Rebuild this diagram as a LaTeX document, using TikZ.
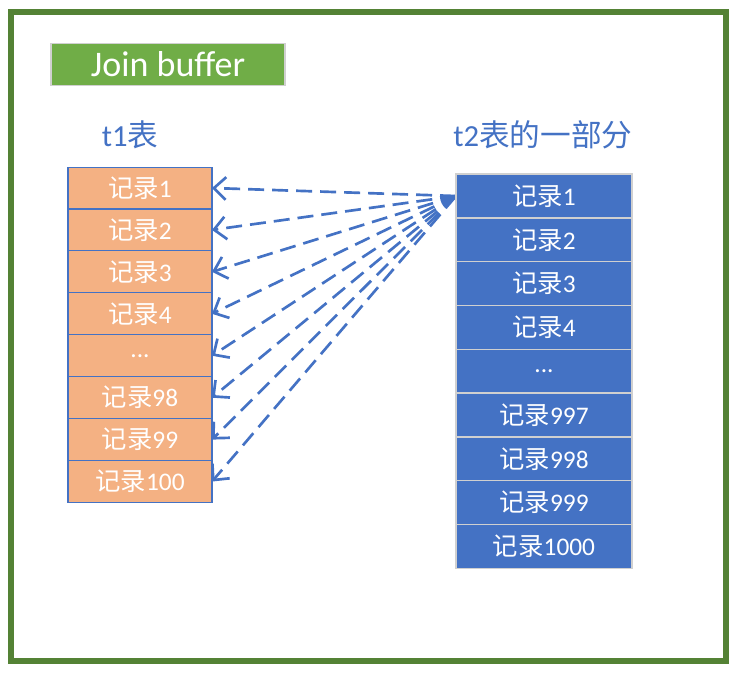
\documentclass[tikz,border=0pt]{standalone}
\usepackage{fontspec}
\setmainfont{Carlito}
\newfontfamily\cjk{Noto Sans CJK SC}
\usepackage{tikz}
\usetikzlibrary{arrows.meta, positioning, backgrounds}
\usepackage{xcolor}
\definecolor{framegreen}{HTML}{548235}
\definecolor{bufgreen}{HTML}{70AD47}
\definecolor{recorange}{HTML}{F4B183}
\definecolor{recblue}{HTML}{4472C4}
\definecolor{lightline}{HTML}{D0D0D0}
\newcommand{\record}[1]{{\cjk 记录}#1}
\tikzstyle{leftcell} = [rectangle, minimum width=108pt, minimum height=31.45pt, inner sep=0pt, outer sep=0pt, draw=recblue, line width=0.8pt, fill=recorange, text=white, font=\fontsize{19}{19}\selectfont]
\tikzstyle{rightcell} = [rectangle, minimum width=132pt, minimum height=32.85pt, inner sep=0pt, outer sep=0pt, draw=lightline, line width=1.1pt, fill=recblue, text=white, font=\fontsize{19}{19}\selectfont]
\tikzstyle{tabletitle} = [text=recblue, font=\fontsize{23}{23}\selectfont]
\tikzstyle{fanarrow} = [recblue, line width=2pt, dash pattern=on 12pt off 6pt, -{Straight Barb[length=9pt,width=17pt]}]

\begin{document}
\begin{tikzpicture}[x=0.75pt, y=-0.75pt]
  \useasboundingbox (0,0) rectangle (737,672);
  \draw[framegreen, line width=4.5pt] (11,12) rectangle (726,661);

  \node[rectangle, minimum width=175.5pt, minimum height=32pt, draw=lightline, line width=0.8pt, fill=bufgreen, text=white, font=\fontsize{27}{27}\selectfont] (buffer) at (168,64.5) {Join buffer};

  \node[tabletitle] (t1title) at (130,135) {t1{\cjk 表}};
  \node[tabletitle] (t2title) at (543,135) {t2{\cjk 表的一部分}};

  % t1 table
  \node[leftcell] (l1) at (140,188) {\record{1}};
  \node[leftcell, below=0pt of l1] (l2) {\record{2}};
  \node[leftcell, below=0pt of l2] (l3) {\record{3}};
  \node[leftcell, below=0pt of l3] (l4) {\record{4}};
  \node[leftcell, below=0pt of l4] (l5) {...};
  \node[leftcell, below=0pt of l5] (l6) {\record{98}};
  \node[leftcell, below=0pt of l6] (l7) {\record{99}};
  \node[leftcell, below=0pt of l7] (l8) {\record{100}};

  % part of t2 table
  \node[rightcell] (r1) at (544,196) {\record{1}};
  \node[rightcell, below=0pt of r1] (r2) {\record{2}};
  \node[rightcell, below=0pt of r2] (r3) {\record{3}};
  \node[rightcell, below=0pt of r3] (r4) {\record{4}};
  \node[rightcell, below=0pt of r4] (r5) {...};
  \node[rightcell, below=0pt of r5] (r6) {\record{997}};
  \node[rightcell, below=0pt of r6] (r7) {\record{998}};
  \node[rightcell, below=0pt of r7] (r8) {\record{999}};
  \node[rightcell, below=0pt of r8] (r9) {\record{1000}};

  \begin{scope}[on background layer]
    \draw[fanarrow] (r1.west) -- (l1.east);
    \draw[fanarrow] (r1.west) -- (l2.east);
    \draw[fanarrow] (r1.west) -- (l3.east);
    \draw[fanarrow] (r1.west) -- (l4.east);
    \draw[fanarrow] (r1.west) -- (l5.east);
    \draw[fanarrow] (r1.west) -- (l6.east);
    \draw[fanarrow] (r1.west) -- (l7.east);
    \draw[fanarrow] (r1.west) -- (l8.east);
  \end{scope}
\end{tikzpicture}
\end{document}
